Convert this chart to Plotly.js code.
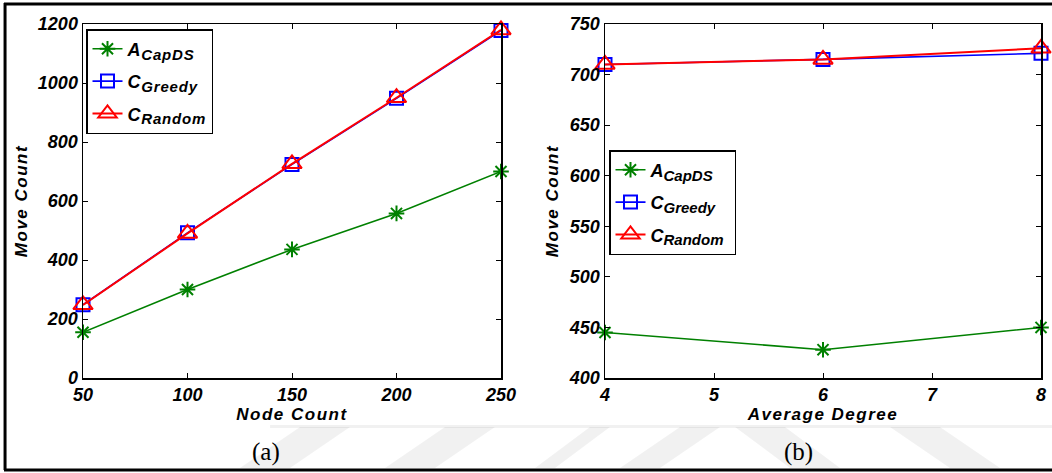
<!DOCTYPE html>
<html>
<head>
<meta charset="utf-8">
<script src="https://cdn.plot.ly/plotly-3.0.1.min.js"></script>
<style>
  html, body { margin: 0; padding: 0; background: #fff; }
  #chart { width: 1052px; height: 473px; }
  .xtitle, .ytitle, .x2title, .y2title { letter-spacing: 1.5px; }
  .legendtext { letter-spacing: 0.8px; }
</style>
</head>
<body>
<div id="chart"></div>
<script>
// (a) move count versus number of nodes
const nodeCount = [50, 100, 150, 200, 250];
const capdsByNodes = [155, 300, 436, 558, 700];
const greedyByNodes = [248, 492, 724, 948, 1178];
const randomByNodes = [248, 490, 726, 950, 1180];

// (b) move count versus average degree
const avgDegree = [4, 6, 8];
const capdsByDegree = [445, 428, 450];
const greedyByDegree = [710, 715, 721];
const randomByDegree = [710, 715, 726];

const seriesNames = [
  'A<sub><span style="font-size:15px">CapDS</span></sub>',
  'C<sub><span style="font-size:15px">Greedy</span></sub>',
  'C<sub><span style="font-size:15px">Random</span></sub>'
];
const seriesColors = ['#008000', '#0000ff', '#ff0000'];
const seriesSymbols = ['asterisk-open', 'square-open', 'triangle-up-open'];
const seriesSizes = [13, 13, 17];
const lineWidths = [1.6, 1.6, 2];

const tickFont = { family: 'Liberation Sans, Arial, sans-serif', size: 18, color: '#000', weight: 'bold', style: 'italic' };
const titleFont = { family: 'Liberation Sans, Arial, sans-serif', size: 17, color: '#000', weight: 'bold', style: 'italic' };

function makeTrace(i, x, y, xa, ya, legendId) {
  return {
    x: x, y: y, xaxis: xa, yaxis: ya, legend: legendId, legendgroup: legendId + '-' + i,
    type: 'scatter', mode: 'lines+markers', name: seriesNames[i], cliponaxis: false,
    line: { color: seriesColors[i], width: lineWidths[i] },
    marker: { symbol: seriesSymbols[i], size: seriesSizes[i], color: seriesColors[i],
              line: { color: seriesColors[i], width: 2 } }
  };
}

const traces = [
  makeTrace(0, nodeCount, capdsByNodes, 'x', 'y', 'legend'),
  makeTrace(1, nodeCount, greedyByNodes, 'x', 'y', 'legend'),
  makeTrace(2, nodeCount, randomByNodes, 'x', 'y', 'legend'),
  makeTrace(0, avgDegree, capdsByDegree, 'x2', 'y2', 'legend2'),
  makeTrace(1, avgDegree, greedyByDegree, 'x2', 'y2', 'legend2'),
  makeTrace(2, avgDegree, randomByDegree, 'x2', 'y2', 'legend2')
];

function axis(extra) {
  return Object.assign({
    showline: true, mirror: 'ticks', linecolor: '#000', linewidth: 1.5,
    ticks: 'inside', ticklen: 5, tickwidth: 1, tickcolor: '#000',
    showgrid: false, zeroline: false, tickfont: tickFont, fixedrange: true
  }, extra);
}

const legendStyle = {
  bgcolor: '#fff', bordercolor: '#000', borderwidth: 1.5,
  font: { family: 'Liberation Sans, Arial, sans-serif', size: 18, color: '#000', weight: 'bold', style: 'italic' },
  xanchor: 'left', yanchor: 'top', xref: 'paper', yref: 'paper',
  itemwidth: 30, tracegroupgap: 6
};

// light diagonal bands near the bottom of the page
const bandColor = 'rgba(0,0,0,0.055)';
const bands = [];
function band(path) {
  bands.push({ type: 'path', xref: 'paper', yref: 'paper', path: path, fillcolor: bandColor, line: { width: 0 }, layer: 'below' });
}
function px(x) { return (x / 1052).toFixed(4); }
function py(y) { return (1 - y / 473).toFixed(4); }
function para(xBottom, xTop, w) {
  band('M' + px(xBottom) + ',' + py(468) + ' L' + px(xTop) + ',' + py(427) + ' L' + px(xTop + w) + ',' + py(427) + ' L' + px(xBottom + w) + ',' + py(468) + ' Z');
}
para(240, 300, 50);
para(385, 445, 50);
para(535, 590, 20);
para(620, 680, 40);
para(790, 735, 50);
para(950, 890, 50);
band('M' + px(270) + ',' + py(425) + ' L' + px(1052) + ',' + py(425) + ' L' + px(1052) + ',' + py(428) + ' L' + px(270) + ',' + py(428) + ' Z');

const frame = [
  { type: 'line', xref: 'paper', yref: 'paper', x0: px(4), x1: 1, y0: py(4), y1: py(4), line: { color: '#000', width: 3 } },
  { type: 'line', xref: 'paper', yref: 'paper', x0: px(5), x1: px(5), y0: py(3), y1: py(470), line: { color: '#000', width: 3 } },
  { type: 'line', xref: 'paper', yref: 'paper', x0: px(4), x1: 1, y0: py(470), y1: py(470), line: { color: '#000', width: 3 } }
];

const captionFont = { family: 'Liberation Serif, Times New Roman, serif', size: 25, color: '#000' };

const layout = {
  width: 1052, height: 473,
  margin: { l: 0, r: 0, t: 0, b: 0 },
  paper_bgcolor: '#fff', plot_bgcolor: '#fff',
  showlegend: true,
  xaxis: axis({ domain: [83 / 1052, 501 / 1052], range: [50, 250], tickvals: nodeCount, anchor: 'y',
    title: { text: 'Node Count', font: titleFont, standoff: 1 } }),
  yaxis: axis({ domain: [1 - 378 / 473, 1 - 24 / 473], range: [0, 1200], dtick: 200, anchor: 'x',
    title: { text: 'Move Count', font: titleFont, standoff: 6 } }),
  xaxis2: axis({ domain: [605 / 1052, 1041 / 1052], range: [4, 8], dtick: 1, anchor: 'y2',
    title: { text: 'Average Degree', font: titleFont, standoff: 1 } }),
  yaxis2: axis({ domain: [1 - 378 / 473, 1 - 24 / 473], range: [400, 750], dtick: 50, anchor: 'x2',
    title: { text: 'Move Count', font: titleFont, standoff: 6 } }),
  legend: Object.assign({}, legendStyle, { x: 86 / 1052, y: 1 - 29 / 473 }),
  legend2: Object.assign({}, legendStyle, { x: 609 / 1052, y: 1 - 150 / 473 }),
  shapes: bands.concat(frame),
  annotations: [
    { text: '(a)', xref: 'paper', yref: 'paper', x: 266 / 1052, y: 1 - 452 / 473, showarrow: false,
      xanchor: 'center', yanchor: 'middle', font: captionFont },
    { text: '(b)', xref: 'paper', yref: 'paper', x: 798 / 1052, y: 1 - 452 / 473, showarrow: false,
      xanchor: 'center', yanchor: 'middle', font: captionFont }
  ]
};

Plotly.newPlot('chart', traces, layout, { displayModeBar: false, staticPlot: true });
</script>
</body>
</html>
